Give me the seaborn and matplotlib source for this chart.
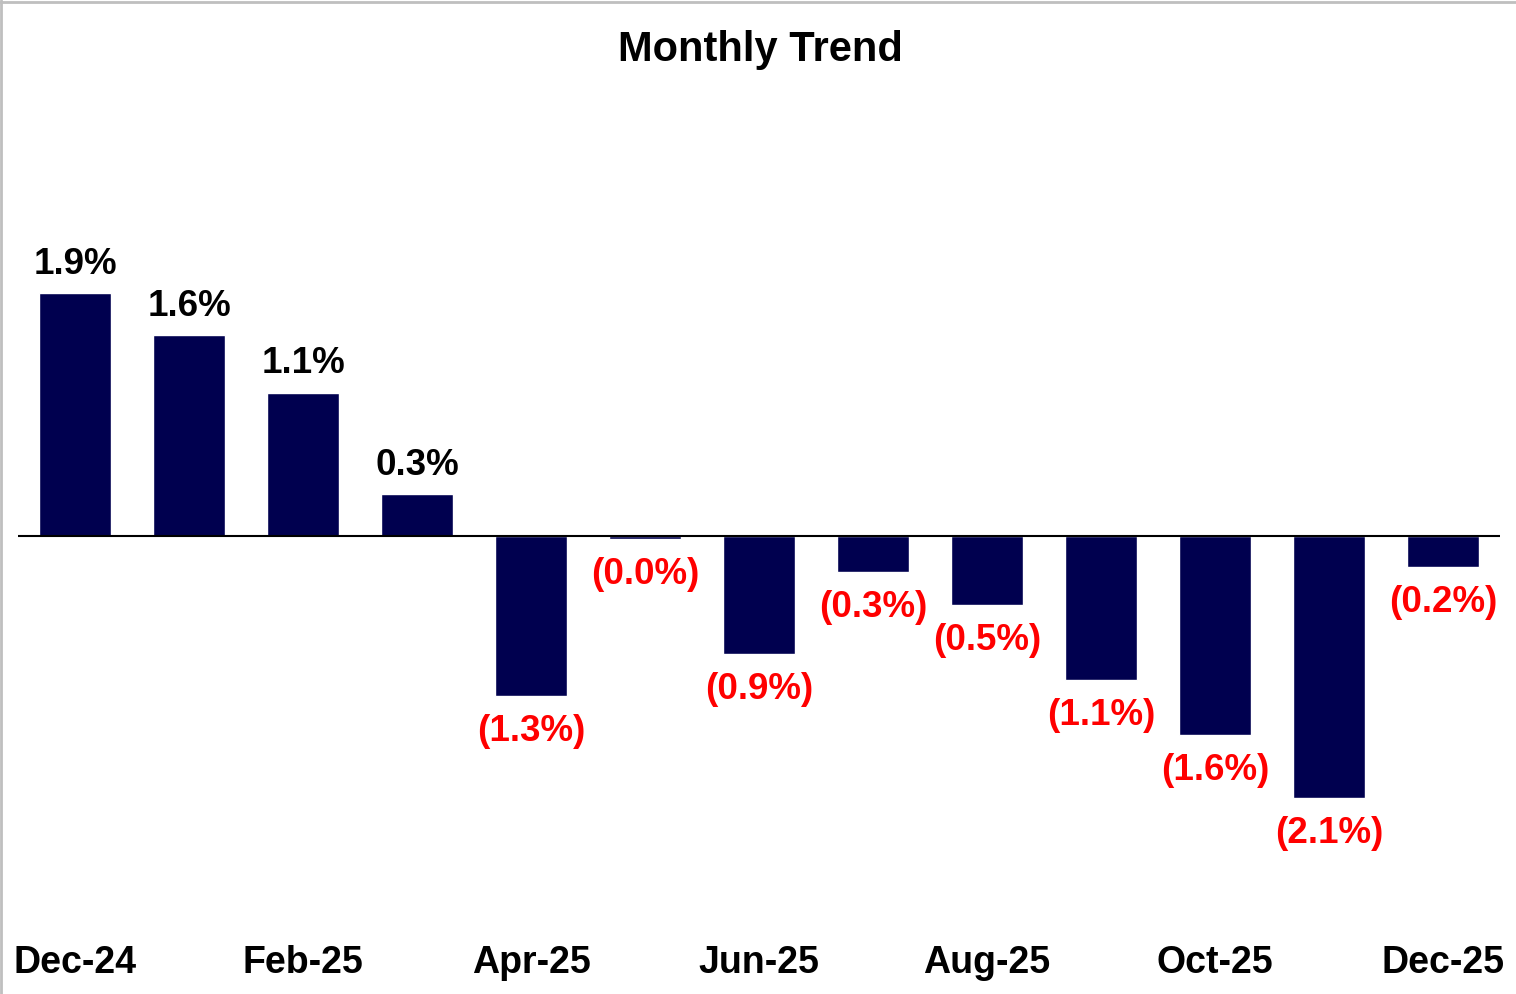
import pandas as pd
import seaborn as sns
import matplotlib.pyplot as plt
from matplotlib.lines import Line2D

months = ['Dec-24', 'Jan-25', 'Feb-25', 'Mar-25', 'Apr-25', 'May-25', 'Jun-25',
          'Jul-25', 'Aug-25', 'Sep-25', 'Oct-25', 'Nov-25', 'Dec-25']
values = [1.91, 1.58, 1.13, 0.33, -1.26, -0.02, -0.93, -0.28, -0.54, -1.13, -1.57, -2.06, -0.24]

df = pd.DataFrame({'month': months, 'change': values})

sns.set_style('white')
plt.rcParams['font.family'] = ['Liberation Sans', 'DejaVu Sans']
plt.rcParams['font.weight'] = 'bold'
plt.rcParams['text.color'] = 'black'
plt.rcParams['xtick.color'] = 'black'

W, H = 1516, 994
fig = plt.figure(figsize=(W / 100, H / 100), dpi=100)
ax = fig.add_axes([18 / W, 1 - 930 / H, (1500 - 18) / W, (930 - 90) / H])

sns.barplot(data=df, x='month', y='change', color='#00004F', width=0.64,
            saturation=1, ax=ax)

ax.set_xlim(-0.5, len(months) - 0.5)
ax.set_ylim(-3.102, 3.512)
ax.axhline(0, color='black', lw=1.5)

# labels above / below each bar
for i, v in enumerate(values):
    if v >= 0:
        ax.annotate(f'{v:.1f}%', (i, v), xytext=(0, 8), textcoords='offset points',
                    ha='center', va='bottom', fontsize=26.5, fontweight='bold', color='black')
    else:
        ax.annotate(f'({abs(v):.1f}%)', (i, v), xytext=(0, -13), textcoords='offset points',
                    ha='center', va='top', fontsize=26.5, fontweight='bold', color='#FF0000')

ax.set_xticks(range(0, len(months), 2))
ax.set_xticklabels(months[::2], fontsize=27, fontweight='bold', color='black')
ax.tick_params(axis='x', length=0, pad=11)
ax.set_yticks([])
ax.set_xlabel('')
ax.set_ylabel('')
sns.despine(ax=ax, left=True, bottom=True)

fig.text(760 / W, 1 - 50 / H, 'Monthly Trend', ha='center', va='center',
         fontsize=30, fontweight='bold', color='black')

# thin grey frame at top and left like the original chart box
fig.add_artist(Line2D([0, 1], [1 - 2 / H, 1 - 2 / H], color='#BFBFBF', lw=2))
fig.add_artist(Line2D([1 / W, 1 / W], [0, 1], color='#BFBFBF', lw=2))

fig.savefig('out.png', dpi=100)
